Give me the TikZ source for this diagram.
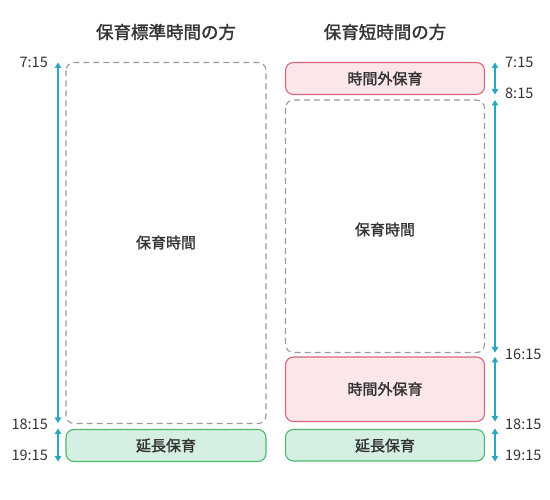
\documentclass[tikz,border=0pt]{standalone}
\usepackage{fontspec}
\setmainfont{Noto Sans CJK JP}
\newfontfamily\jpmed{Noto Sans CJK JP}[FakeBold=1.6]
\usetikzlibrary{arrows.meta}
\definecolor{txt}{HTML}{333333}
\definecolor{axisteal}{HTML}{2BA6BF}
\definecolor{redfill}{HTML}{FBE6EA}
\definecolor{reddraw}{HTML}{D9667B}
\definecolor{greenfill}{HTML}{D5F0E3}
\definecolor{greendraw}{HTML}{4DB86B}
\definecolor{dashgray}{HTML}{9A9A9A}
\tikzset{
  box/.style={rounded corners=8pt, line width=1.1pt},
  dashbox/.style={box, draw=dashgray, dash pattern=on 6pt off 4pt},
  redbox/.style={box, draw=reddraw, fill=redfill},
  greenbox/.style={box, draw=greendraw, fill=greenfill},
  lbl/.style={text=txt, font=\jpmed\fontsize{15}{15}\selectfont, inner sep=0pt},
  ttl/.style={text=txt, font=\jpmed\fontsize{17.5}{17.5}\selectfont, inner sep=0pt},
  tm/.style={text=txt, font=\fontsize{14.5}{14.5}\selectfont, inner sep=0pt},
  span/.style={draw=axisteal, line width=1.2pt, {Triangle[width=6.5pt,length=5.5pt]}-{Triangle[width=6.5pt,length=5.5pt]}}
}
\begin{document}
\begin{tikzpicture}[x=1pt,y=-1pt]
\useasboundingbox (0,0) rectangle (550,500);
% titles
\node[ttl] (t1) at (166,32) {保育標準時間の方};
\node[ttl] (t2) at (385,32) {保育短時間の方};
% left column
\draw[dashbox] (66,62.5) rectangle (266,423.5);
\node[lbl] (l1) at (166,242.5) {保育時間};
\draw[greenbox] (66,429.5) rectangle (266,461.5);
\node[lbl] (l2) at (166,445.5) {延長保育};
% right column
\draw[redbox] (285.5,62.5) rectangle (484.5,94.5);
\node[lbl] (r1) at (385,78.5) {時間外保育};
\draw[dashbox] (285.5,100) rectangle (484.5,352.5);
\node[lbl] (r2) at (385,229.5) {保育時間};
\draw[redbox] (285.5,357) rectangle (484.5,421.5);
\node[lbl] (r3) at (385,389) {時間外保育};
\draw[greenbox] (285.5,429.5) rectangle (484.5,461);
\node[lbl] (r4) at (385,445.5) {延長保育};
% left time axis
\coordinate (la) at (58,62.5);
\coordinate (lb) at (58,423);
\coordinate (lc) at (58,428.5);
\coordinate (ld) at (58,461.5);
\draw[span] (la) -- (lb);
\draw[span] (lc) -- (ld);
\node[tm, anchor=east] (a1) at (48,62) {7:15};
\node[tm, anchor=east] (a2) at (48,424) {18:15};
\node[tm, anchor=east] (a3) at (48,455) {19:15};
% right time axis
\coordinate (ra) at (495,62.5);
\coordinate (rb) at (495,94.5);
\coordinate (rc) at (495,100);
\coordinate (rd) at (495,352.5);
\coordinate (re) at (495,357);
\coordinate (rf) at (495,421.5);
\coordinate (rg) at (495,428.5);
\coordinate (rh) at (495,461.5);
\draw[span] (ra) -- (rb);
\draw[span] (rc) -- (rd);
\draw[span] (re) -- (rf);
\draw[span] (rg) -- (rh);
\node[tm, anchor=west] (b1) at (505,62) {7:15};
\node[tm, anchor=west] (b2) at (505,93) {8:15};
\node[tm, anchor=west] (b3) at (505,354) {16:15};
\node[tm, anchor=west] (b4) at (505,424) {18:15};
\node[tm, anchor=west] (b5) at (505,455.5) {19:15};
\end{tikzpicture}
\end{document}
